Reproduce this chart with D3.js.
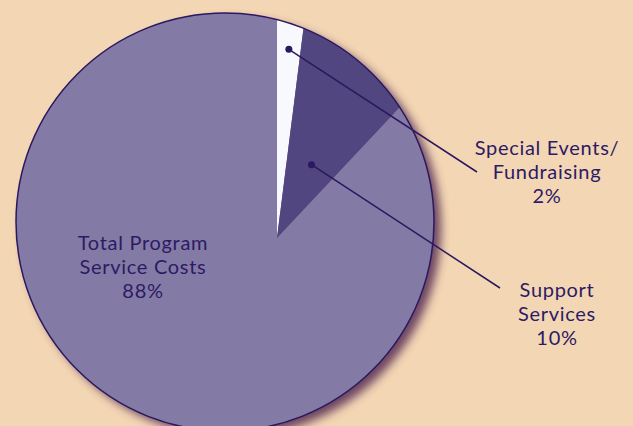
<!DOCTYPE html>
<html lang="en">
<head>
<meta charset="utf-8">
<title>Expenses pie</title>
<script src="https://cdn.jsdelivr.net/npm/d3@7/dist/d3.min.js"></script>
<style>
    body { margin: 0; background: #f3d7b4; }
    .label {
        font-family: "Lato", "Open Sans", sans-serif;
        font-size: 20px;
        letter-spacing: 0.7px;
        fill: #2d1a64;
        text-anchor: middle;
    }
</style>
</head>
<body>
<div id="chart"></div>

<script type="text/javascript">

// slices, clockwise from 12 o'clock
var categories = ["Special Events/Fundraising", "Support Services", "Total Program Service Costs"];
var values = [2, 10, 88];
var sliceColors = ["#f8f8ff", "#51467f", "#837ba5"];

// label lines and the % shown under each
var labelLines = [["Special Events/", "Fundraising", "2%"],
                  ["Support", "Services", "10%"],
                  ["Total Program", "Service Costs", "88%"]];

var width = 633, height = 426;
var apex = {x: 277, y: 238};      // where the wedges meet
var disc = {x: 225, y: 222, r: 209}; // the round outline

var svg = d3.select("#chart")
    .append("svg")
    .attr("width", width)
    .attr("height", height);

var defs = svg.append("defs");

defs.append("clipPath")
    .attr("id", "discClip")
    .append("circle")
    .attr("cx", disc.x)
    .attr("cy", disc.y)
    .attr("r", disc.r);

var blur = defs.append("filter")
    .attr("id", "shadow")
    .attr("x", "-20%").attr("y", "-20%")
    .attr("width", "140%").attr("height", "140%");
blur.append("feGaussianBlur").attr("stdDeviation", 5);

// soft shadow towards bottom right
svg.append("circle")
    .attr("cx", disc.x + 7)
    .attr("cy", disc.y + 6)
    .attr("r", disc.r)
    .attr("fill", "#5e3458")
    .attr("opacity", 0.9)
    .attr("filter", "url(#shadow)");

var pie = d3.pie().sort(null).value(function(d) { return d; });
var arcs = pie(values);

var bigArc = d3.arc().innerRadius(0).outerRadius(600);

svg.append("g")
    .attr("clip-path", "url(#discClip)")
    .append("g")
    .attr("transform", "translate(" + apex.x + "," + apex.y + ")")
    .selectAll("path")
    .data(arcs)
    .enter().append("path")
    .attr("d", bigArc)
    .attr("fill", function(d, i) { return sliceColors[i]; });

svg.append("circle")
    .attr("cx", disc.x)
    .attr("cy", disc.y)
    .attr("r", disc.r)
    .attr("fill", "none")
    .attr("stroke", "#2a1860")
    .attr("stroke-width", 1.5);

// leader lines: dot inside the wedge, line out to the label
var dotRadius = [189, 81];
var lineEnd = [[477, 172], [500, 288]];

var lead = svg.append("g")
    .attr("transform", "translate(" + apex.x + "," + apex.y + ")");

[0, 1].forEach(function(i) {
    var r = dotRadius[i];
    var c = d3.arc().innerRadius(r).outerRadius(r).centroid(arcs[i]);
    lead.append("line")
        .attr("x1", c[0]).attr("y1", c[1])
        .attr("x2", lineEnd[i][0] - apex.x)
        .attr("y2", lineEnd[i][1] - apex.y)
        .attr("stroke", "#2a1860")
        .attr("stroke-width", 1.5);
    lead.append("circle")
        .attr("cx", c[0]).attr("cy", c[1])
        .attr("r", 3.5)
        .attr("fill", "#2a1860");
});

// labels
var labelPos = [[547, 155], [557, 297], [143, 250]];
var lineGap = 24;

labelLines.forEach(function(lines, i) {
    lines.forEach(function(s, j) {
        svg.append("text")
            .attr("class", "label")
            .attr("x", labelPos[i][0])
            .attr("y", labelPos[i][1] + j * lineGap)
            .text(s);
    });
});

</script>
</body>
</html>
